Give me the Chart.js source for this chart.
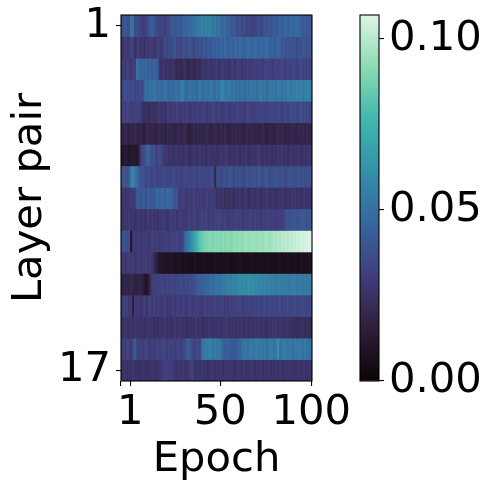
<!DOCTYPE html>
<html>
<head>
<meta charset="utf-8">
<script src="https://cdn.jsdelivr.net/npm/chart.js@4.4.1/dist/chart.umd.min.js"></script>
<style>
  html, body { margin: 0; padding: 0; background: #fff; }
  #wrap { position: relative; width: 491px; height: 491px; }
  #wrap canvas { position: absolute; left: 0; top: 0; }
</style>
</head>
<body>
<div id="wrap">
  <canvas id="heatChart" width="491" height="491"></canvas>
  <canvas id="barChart" width="491" height="491"></canvas>
</div>
<script>
// values, one array per layer pair, epochs 1..100
const pair1 = [.040,.038,.042,.037,.039,.052,.050,.036,.038,.035, .033,.030,.031,.034,.038,.041,.043,.040,.036,.034, .032,.035,.033,.031,.034,.037,.040,.042,.039,.041, .043,.040,.044,.046,.045,.048,.047,.050,.049,.052, .054,.055,.057,.053,.056,.055,.058,.054,.052,.055, .050,.053,.048,.046,.049,.044,.045,.042,.040,.041, .038,.036,.039,.034,.037,.035,.033,.036,.031,.034, .032,.035,.037,.033,.036,.040,.038,.042,.039,.041, .043,.040,.044,.046,.042,.045,.047,.044,.046,.048, .045,.047,.049,.046,.044,.041,.043,.040,.042,.041];
const pair2 = [.028,.026,.030,.027,.029,.033,.031,.025,.028,.032, .026,.029,.024,.030,.027,.031,.029,.026,.028,.033, .030,.027,.034,.036,.033,.038,.035,.037,.040,.034, .036,.033,.039,.037,.035,.038,.041,.036,.034,.039, .037,.040,.036,.042,.038,.041,.044,.040,.045,.043, .046,.042,.047,.044,.048,.045,.043,.047,.044,.046, .048,.045,.049,.047,.044,.046,.050,.048,.045,.047, .049,.046,.044,.048,.045,.047,.050,.046,.043,.045, .042,.044,.047,.043,.040,.042,.039,.041,.038,.040, .037,.039,.036,.040,.038,.041,.039,.037,.040,.038];
const pair3 = [.029,.031,.028,.033,.030,.027,.032,.030,.051,.048, .045,.047,.044,.046,.043,.045,.042,.046,.044,.041, .027,.025,.028,.024,.026,.025,.023,.027,.022,.021, .023,.020,.022,.024,.021,.019,.022,.023,.020,.022, .024,.021,.026,.028,.025,.027,.029,.026,.028,.027, .029,.026,.028,.030,.027,.029,.026,.028,.030,.027, .028,.031,.029,.027,.030,.028,.032,.029,.031,.030, .032,.030,.033,.031,.029,.032,.034,.031,.033,.030, .032,.034,.031,.033,.035,.032,.030,.034,.032,.033, .035,.033,.031,.034,.036,.033,.035,.032,.034,.033];
const pair4 = [.036,.033,.040,.035,.038,.034,.037,.032,.036,.035, .038,.034,.047,.050,.048,.052,.049,.053,.051,.048, .050,.047,.049,.052,.048,.046,.050,.047,.049,.051, .048,.054,.056,.050,.047,.049,.052,.048,.051,.047, .049,.053,.050,.048,.052,.049,.051,.054,.050,.048, .052,.050,.056,.058,.053,.051,.055,.052,.050,.053, .049,.051,.048,.052,.050,.047,.051,.049,.053,.050, .052,.048,.051,.054,.050,.053,.049,.052,.055,.051, .053,.050,.054,.052,.049,.053,.051,.056,.054,.052, .055,.053,.057,.054,.056,.053,.055,.058,.054,.056];
const pair5 = [.031,.033,.030,.034,.032,.031,.030,.033,.031,.032, .030,.024,.023,.025,.022,.024,.026,.023,.025,.027, .029,.026,.028,.025,.031,.030,.028,.031,.029,.032, .030,.028,.031,.029,.033,.030,.028,.031,.029,.030, .032,.029,.031,.034,.030,.028,.032,.030,.035,.031, .029,.032,.030,.028,.031,.033,.030,.029,.032,.030, .031,.033,.030,.032,.029,.031,.034,.032,.030,.033, .031,.034,.032,.035,.033,.031,.034,.032,.036,.033, .034,.032,.035,.033,.031,.034,.036,.033,.035,.037, .034,.036,.033,.035,.038,.034,.036,.033,.035,.034];
const pair6 = [.020,.018,.021,.019,.016,.020,.018,.021,.019,.017, .020,.018,.015,.019,.021,.018,.020,.019,.017,.020, .021,.019,.020,.018,.021,.019,.020,.018,.017,.019, .021,.018,.020,.022,.019,.017,.016,.019,.021,.018, .020,.019,.021,.018,.020,.022,.019,.018,.020,.021, .019,.017,.020,.018,.021,.019,.016,.018,.020,.019, .021,.018,.020,.019,.017,.019,.021,.018,.020,.019, .018,.020,.017,.019,.021,.018,.016,.019,.020,.018, .017,.019,.021,.018,.020,.019,.017,.018,.020,.019, .021,.019,.018,.020,.019,.021,.018,.020,.019,.020];
const pair7 = [.012,.011,.013,.012,.010,.011,.013,.012,.011,.015, .030,.034,.038,.042,.046,.040,.036,.038,.032,.035, .037,.033,.030,.026,.028,.025,.027,.024,.026,.028, .025,.027,.024,.026,.028,.025,.023,.026,.027,.025, .026,.028,.025,.027,.024,.026,.028,.025,.027,.026, .024,.026,.028,.025,.027,.029,.026,.024,.027,.025, .028,.026,.024,.027,.025,.028,.026,.024,.026,.027, .025,.027,.029,.026,.024,.027,.025,.028,.026,.024, .027,.025,.028,.026,.029,.025,.027,.024,.026,.028, .025,.027,.026,.028,.024,.026,.027,.025,.028,.026];
const pair8 = [.038,.040,.037,.039,.042,.055,.058,.052,.049,.044, .038,.041,.036,.034,.037,.035,.033,.036,.034,.032, .035,.033,.036,.034,.032,.035,.033,.036,.034,.033, .035,.032,.034,.036,.033,.035,.032,.034,.036,.033, .034,.036,.033,.035,.032,.034,.033,.036,.035,.020, .036,.038,.035,.037,.039,.036,.038,.040,.037,.035, .038,.036,.039,.037,.035,.038,.040,.036,.039,.037, .039,.037,.040,.038,.036,.039,.041,.038,.036,.039, .037,.040,.038,.036,.039,.037,.035,.038,.040,.037, .039,.036,.038,.040,.037,.039,.036,.038,.037,.039];
const pair9 = [.027,.029,.026,.028,.027,.029,.028,.030,.040,.042, .039,.043,.041,.038,.044,.040,.042,.039,.045,.047, .043,.048,.046,.044,.049,.045,.047,.041,.038,.040, .031,.029,.032,.030,.028,.031,.029,.030,.032,.028, .030,.029,.031,.028,.030,.032,.029,.031,.030,.029, .024,.027,.025,.028,.022,.026,.024,.027,.025,.023, .027,.025,.028,.024,.026,.029,.025,.022,.027,.026, .025,.028,.026,.024,.027,.025,.029,.026,.024,.027, .026,.024,.027,.025,.028,.026,.023,.027,.025,.028, .026,.028,.025,.027,.024,.026,.028,.025,.027,.026];
const pair10 = [.028,.026,.029,.027,.030,.026,.028,.025,.027,.029, .026,.028,.025,.027,.030,.026,.029,.027,.028,.026, .029,.027,.030,.028,.026,.029,.031,.028,.030,.027, .029,.031,.028,.030,.027,.033,.031,.029,.032,.030, .028,.031,.033,.030,.034,.031,.029,.032,.030,.033, .031,.034,.032,.030,.033,.031,.029,.032,.030,.031, .033,.030,.032,.031,.029,.032,.030,.033,.031,.030, .032,.030,.031,.029,.032,.030,.031,.033,.030,.032, .031,.029,.032,.030,.031,.033,.037,.039,.038,.040, .039,.041,.038,.040,.039,.042,.040,.038,.041,.039];
const pair11 = [.038,.040,.039,.037,.038,.010,.028,.030,.029,.031, .028,.030,.029,.031,.028,.030,.032,.029,.031,.030, .029,.031,.030,.032,.031,.029,.033,.031,.032,.034, .031,.033,.032,.046,.050,.053,.058,.063,.068,.073, .077,.082,.085,.086,.088,.089,.090,.090,.089,.091, .090,.091,.089,.092,.090,.091,.092,.090,.091,.093, .092,.093,.094,.092,.093,.095,.094,.093,.095,.094, .095,.094,.096,.095,.094,.096,.097,.095,.096,.097, .098,.097,.099,.098,.100,.099,.101,.100,.102,.101, .103,.102,.104,.103,.105,.104,.106,.105,.107,.106];
const pair12 = [.028,.030,.027,.029,.031,.028,.030,.027,.029,.031, .028,.030,.029,.031,.028,.030,.027,.022,.018,.014, .011,.010,.009,.010,.008,.009,.010,.008,.007,.008, .007,.008,.006,.007,.008,.006,.007,.006,.008,.007, .006,.007,.006,.008,.007,.006,.007,.006,.007,.008, .006,.007,.006,.007,.006,.008,.007,.006,.007,.006, .007,.006,.008,.007,.006,.007,.006,.007,.008,.007, .006,.007,.006,.008,.007,.006,.007,.008,.007,.006, .007,.006,.007,.008,.006,.007,.006,.008,.007,.006, .007,.008,.007,.006,.008,.007,.006,.007,.008,.007];
const pair13 = [.019,.018,.020,.019,.018,.020,.019,.018,.017,.019, .018,.016,.012,.009,.014,.022,.030,.032,.031,.033, .032,.034,.033,.031,.034,.033,.035,.034,.032,.035, .034,.036,.035,.033,.036,.035,.037,.036,.038,.040, .042,.044,.043,.045,.047,.046,.048,.049,.047,.050, .051,.050,.052,.054,.053,.055,.056,.054,.057,.058, .056,.058,.060,.059,.061,.058,.060,.062,.059,.061, .058,.060,.057,.059,.056,.058,.055,.057,.054,.056, .055,.053,.056,.054,.055,.053,.056,.054,.052,.055, .053,.054,.052,.055,.053,.051,.054,.052,.053,.054];
const pair14 = [.028,.033,.030,.032,.027,.029,.015,.030,.028,.031, .026,.029,.032,.027,.030,.034,.028,.032,.029,.031, .030,.028,.031,.033,.027,.030,.029,.032,.028,.030, .031,.029,.032,.030,.028,.031,.033,.029,.031,.030, .032,.030,.028,.031,.033,.030,.032,.029,.031,.033, .030,.032,.031,.033,.029,.032,.030,.033,.031,.032, .033,.031,.034,.032,.030,.033,.031,.034,.032,.033, .034,.032,.035,.033,.034,.036,.033,.035,.034,.032, .035,.033,.034,.036,.033,.035,.034,.036,.033,.035, .034,.036,.033,.035,.034,.036,.035,.033,.035,.034];
const pair15 = [.027,.025,.028,.026,.024,.027,.025,.028,.026,.027, .025,.027,.024,.026,.028,.025,.027,.024,.026,.025, .027,.025,.026,.028,.025,.027,.024,.026,.028,.025, .026,.028,.025,.027,.024,.026,.025,.027,.026,.028, .025,.027,.026,.024,.027,.025,.028,.026,.025,.027, .026,.028,.025,.027,.026,.029,.025,.027,.026,.028, .025,.027,.026,.028,.025,.027,.026,.024,.027,.025, .027,.026,.028,.025,.027,.026,.024,.027,.025,.028, .026,.028,.025,.027,.026,.025,.027,.026,.024,.025, .023,.024,.022,.024,.023,.025,.022,.024,.023,.022];
const pair16 = [.030,.032,.029,.033,.031,.028,.036,.042,.034,.031, .033,.030,.032,.035,.031,.029,.033,.030,.032,.034, .031,.033,.035,.032,.030,.034,.031,.033,.030,.032, .034,.031,.033,.036,.040,.043,.041,.035,.032,.034, .036,.033,.048,.052,.055,.053,.056,.054,.052,.055, .051,.053,.050,.046,.044,.042,.045,.041,.043,.040, .042,.044,.046,.049,.051,.053,.050,.052,.054,.051, .053,.055,.052,.054,.051,.053,.050,.052,.055,.053, .051,.054,.062,.050,.052,.055,.053,.051,.054,.052, .050,.053,.051,.054,.052,.050,.053,.051,.049,.052];
const pair17 = [.026,.025,.027,.024,.026,.025,.027,.025,.026,.024, .025,.027,.026,.024,.026,.025,.027,.026,.025,.027, .026,.029,.031,.033,.032,.030,.032,.029,.027,.026, .028,.026,.029,.027,.025,.028,.030,.033,.028,.026, .027,.025,.028,.026,.027,.025,.026,.028,.027,.025, .027,.026,.028,.025,.027,.029,.026,.028,.027,.025, .026,.028,.027,.025,.028,.026,.027,.025,.028,.026, .025,.027,.026,.028,.025,.027,.026,.028,.025,.027, .026,.028,.025,.027,.026,.025,.028,.026,.027,.025, .027,.025,.026,.028,.025,.027,.026,.025,.027,.026];

const layerPairs = [pair1, pair2, pair3, pair4, pair5, pair6, pair7, pair8, pair9,
                    pair10, pair11, pair12, pair13, pair14, pair15, pair16, pair17];
const epochs = pair1.map((v, i) => i + 1);

// axis ticks
const yTickRows = [1, 17];
const xTickEpochs = [0.5, 5.4, 52.5, 100.1];
const xTickLabels = ['', '1', '50', '100'];
const cbarTicks = [0, 0.05, 0.10];
const vMax = 0.107;

// seaborn "mako" colormap anchors
const makoStops = [
    [0, '#0b0405'], [0.143, '#2e1e3b'], [0.286, '#413d7b'], [0.429, '#37659e'],
    [0.571, '#348fa7'], [0.714, '#40b7ad'], [0.857, '#8bdab2'], [1, '#def5e5']
];
const hexRgb = h => [1, 3, 5].map(i => parseInt(h.slice(i, i + 2), 16));
function mako(t) {
    t = Math.max(0, Math.min(1, t));
    for (let k = 1; k < makoStops.length; k++) {
        const [p1, c1] = makoStops[k];
        if (t <= p1) {
            const [p0, c0] = makoStops[k - 1];
            const f = (t - p0) / (p1 - p0);
            const a = hexRgb(c0), b = hexRgb(c1);
            const rgb = a.map((x, j) => Math.round(x + (b[j] - x) * f));
            return `rgb(${rgb.join(',')})`;
        }
    }
    return makoStops[makoStops.length - 1][1];
}

const FONT = { family: 'DejaVu Sans', size: 41.7 };

// frame round the plot area
const framePlugin = {
    id: 'frame',
    afterDatasetsDraw(chart) {
        const { ctx, chartArea: a } = chart;
        ctx.save();
        ctx.strokeStyle = '#000';
        ctx.lineWidth = 1.1;
        ctx.strokeRect(a.left, a.top, a.right - a.left, a.bottom - a.top);
        ctx.restore();
    }
};

const tickGrid = { display: true, offset: false, drawOnChartArea: false, drawTicks: true, tickLength: 5, color: '#000', lineWidth: 1.1 };

const heatDatasets = layerPairs.map((row, r) => ({
    data: row.map((v, i) => ({ x: epochs[i], y: [r + 0.5, r + 1.5] })),
    backgroundColor: row.map(v => mako(v / vMax)),
    borderWidth: 0,
    barPercentage: 1,
    categoryPercentage: 1,
    grouped: false,
    inflateAmount: 0.4
}));

new Chart(document.getElementById('heatChart').getContext('2d'), {
    type: 'bar',
    data: { datasets: heatDatasets },
    options: {
        responsive: false,
        animation: false,
        events: [],
        layout: { padding: { left: 0, top: 15, right: 179, bottom: 0 } },
        plugins: { legend: { display: false }, tooltip: { enabled: false } },
        scales: {
            x: {
                type: 'linear',
                offset: false,
                min: 0.5, max: 100.5,
                grid: tickGrid,
                border: { display: false },
                afterBuildTicks: s => { s.ticks = xTickEpochs.map(v => ({ value: v })); },
                afterFit: s => { s.height = 110; s.paddingLeft = 0; s.paddingRight = 0; },
                ticks: {
                    autoSkip: false, maxRotation: 0, padding: 2,
                    color: '#000', font: FONT,
                    callback: (v, i) => xTickLabels[i]
                },
                title: { display: true, text: 'Epoch', color: '#000', font: FONT, padding: { top: 0, bottom: 6 } }
            },
            y: {
                type: 'linear',
                reverse: true,
                min: 0.5, max: 17.5,
                grid: tickGrid,
                border: { display: false },
                afterBuildTicks: s => { s.ticks = yTickRows.map(v => ({ value: v })); },
                afterFit: s => { s.width = 121; s.paddingTop = 0; s.paddingBottom = 0; },
                ticks: { autoSkip: false, padding: 5, color: '#000', font: FONT },
                title: { display: true, text: 'Layer pair', color: '#000', font: FONT, padding: { top: 5, bottom: 0 } }
            }
        }
    },
    plugins: [framePlugin]
});

// colour bar
new Chart(document.getElementById('barChart').getContext('2d'), {
    type: 'bar',
    data: {
        labels: ['scale'],
        datasets: [{
            data: [[0, vMax]],
            borderWidth: 0,
            barPercentage: 1,
            categoryPercentage: 1,
            backgroundColor: c => {
                const { chart } = c;
                if (!chart.chartArea) return '#000';
                const y = chart.scales.y;
                const g = chart.ctx.createLinearGradient(0, y.getPixelForValue(0), 0, y.getPixelForValue(vMax));
                makoStops.forEach(([p, col]) => g.addColorStop(p, col));
                return g;
            }
        }]
    },
    options: {
        responsive: false,
        animation: false,
        events: [],
        layout: { padding: { left: 360, top: 15, right: 0, bottom: 110 } },
        plugins: { legend: { display: false }, tooltip: { enabled: false } },
        scales: {
            x: { display: false },
            y: {
                position: 'right',
                min: 0, max: vMax,
                grid: tickGrid,
                border: { display: false },
                afterBuildTicks: s => { s.ticks = cbarTicks.map(v => ({ value: v })); },
                afterFit: s => { s.width = 112; s.paddingTop = 0; s.paddingBottom = 0; },
                ticks: {
                    padding: 5, color: '#000', font: FONT,
                    callback: v => v.toFixed(2)
                }
            }
        }
    },
    plugins: [framePlugin]
});
</script>
</body>
</html>
